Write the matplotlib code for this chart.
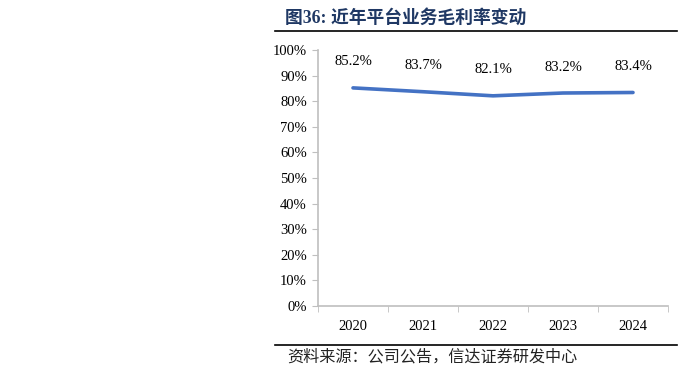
import matplotlib
matplotlib.use("Agg")
import matplotlib.pyplot as plt
from matplotlib.ticker import FixedLocator, FuncFormatter
from matplotlib.lines import Line2D

years = ["2020", "2021", "2022", "2023", "2024"]
margin = [85.2, 83.7, 82.1, 83.2, 83.4]
labels = ["85.2%", "83.7%", "82.1%", "83.2%", "83.4%"]
title = "图36: 近年平台业务毛利率变动"
source = "资料来源：公司公告，信达证券研发中心"

W, H = 692, 376
fig = plt.figure(figsize=(W / 100, H / 100), dpi=100)
ax = fig.add_axes([318 / W, 1 - 306 / H, (668 - 318) / W, (306 - 50) / H])

x = list(range(len(years)))
ax.plot(x, margin, color="#4472C4", lw=2.6, solid_capstyle="round")
for xi, v, t in zip(x, margin, labels):
    ax.annotate(t, (xi, v), xytext=(0, 14), textcoords="offset points",
                ha="center", va="bottom", fontsize=10.5, family="Liberation Serif")

ax.set_xlim(-0.5, len(years) - 0.5)
ax.set_ylim(0, 100)
ax.set_yticks(range(0, 101, 10))
ax.yaxis.set_major_formatter(FuncFormatter(lambda v, p: f"{int(v)}%"))
ax.set_xticks(x)
ax.set_xticklabels(years)
ax.xaxis.set_minor_locator(FixedLocator([i - 0.5 for i in range(len(years) + 1)]))
ax.tick_params(axis="x", which="major", length=0, pad=10)
ax.tick_params(axis="x", which="minor", length=4, color="#BFBFBF", direction="out")
ax.tick_params(axis="y", length=4, color="#BFBFBF", direction="out", pad=4)
for lab in ax.get_xticklabels() + ax.get_yticklabels():
    lab.set_family("Liberation Serif")
    lab.set_fontsize(10.5)
for s in ["top", "right"]:
    ax.spines[s].set_visible(False)
for s in ["left", "bottom"]:
    ax.spines[s].set_color("#BFBFBF")
    ax.spines[s].set_linewidth(1.2)

fig.text(285 / W, 1 - 18 / H, title, fontsize=12.8, fontweight="bold", color="#1F3864",
         family=["Liberation Serif", "Noto Sans CJK SC", "DejaVu Sans"], va="center", ha="left")
fig.add_artist(Line2D([275 / W, 677 / W], [1 - 31 / H, 1 - 31 / H], color="black", lw=1.2))
fig.add_artist(Line2D([275 / W, 677 / W], [1 - 345 / H, 1 - 345 / H], color="black", lw=1.2))
fig.text(287 / W, 1 - 357 / H, source, fontsize=11.6, color="#222222", style="italic",
         family=["Noto Sans CJK SC", "DejaVu Sans"], va="center", ha="left")

fig.savefig("out.png", dpi=100)
